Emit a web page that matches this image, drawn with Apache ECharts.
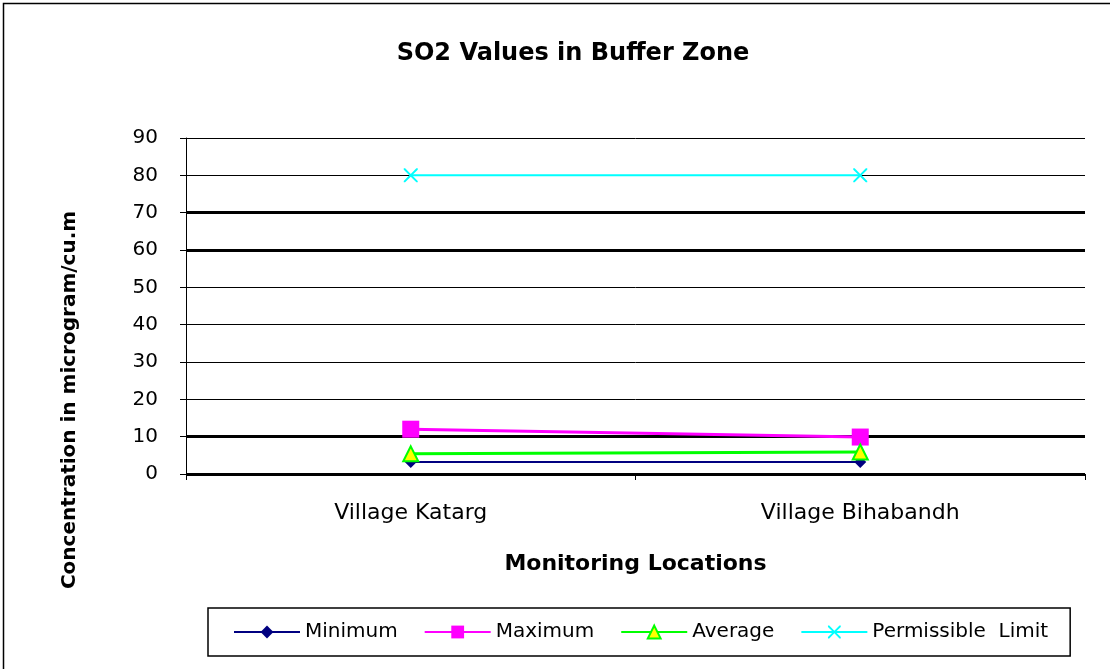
<!DOCTYPE html>
<html>
<head>
<meta charset="utf-8">
<script src="https://cdn.jsdelivr.net/npm/echarts@6/dist/echarts.min.js"></script>
<style>
  html, body { margin: 0; padding: 0; background: #fff; }
  #chart { width: 1110px; height: 669px; }
</style>
</head>
<body>
<div id="chart"></div>
<script>
const locations = ['Village Katarg', 'Village Bihabandh'];
const minimum = [3.2, 3.2];
const maximum = [12.0, 9.9];
const average = [5.4, 5.9];
const permissible = [80, 80];
const thickGrid = [0, 10, 60, 70];

const font = 'DejaVu Sans, Verdana, sans-serif';
const crossPath = 'path://M0,0L1,0L5,4L9,0L10,0L10,1L6,5L10,9L10,10L9,10L5,6L1,10L0,10L0,9L4,5L0,1Z';

const chart = echarts.init(document.getElementById('chart'));
chart.setOption({
  animation: false,
  textStyle: { fontFamily: font, color: '#000' },
  title: {
    text: 'SO2 Values in Buffer Zone',
    left: 568,
    top: 37,
    textAlign: 'center',
    textStyle: { fontSize: 24, fontWeight: 'bold', color: '#000', fontFamily: font },
  },
  graphic: [
    {
      type: 'rect',
      shape: { x: 3.5, y: 3.5, width: 1120, height: 680 },
      style: { fill: 'none', stroke: '#000', lineWidth: 1.5 },
      silent: true,
    },
    {
      type: 'text',
      x: 70,
      y: 400,
      rotation: Math.PI / 2,
      style: {
        text: 'Concentration in microgram/cu.m',
        font: 'bold 20px ' + font,
        fill: '#000',
        align: 'center',
        verticalAlign: 'middle',
      },
    },
  ],
  legend: {
    left: 208,
    top: 608,
    padding: [14, 22, 14, 25],
    borderColor: '#000',
    borderWidth: 1.5,
    itemWidth: 66,
    itemHeight: 16,
    itemGap: 26,
    textStyle: { fontSize: 20, fontFamily: font, color: '#000' },
    data: ['Minimum', 'Maximum', 'Average', 'Permissible  Limit'],
  },
  grid: { left: 186, right: 25, top: 138, bottom: 195, containLabel: false },
  xAxis: {
    type: 'category',
    data: locations,
    boundaryGap: true,
    name: 'Monitoring Locations',
    nameLocation: 'middle',
    nameGap: 79,
    nameTextStyle: { fontSize: 22, fontWeight: 'bold', color: '#000', fontFamily: font },
    axisLine: { lineStyle: { color: '#000', width: 1 } },
    axisTick: { show: true, length: 6, inside: false, lineStyle: { color: '#000' } },
    axisLabel: { fontSize: 22, color: '#000', margin: 28, fontFamily: font },
  },
  yAxis: {
    type: 'value',
    min: 0,
    max: 90,
    interval: 10,
    axisLine: { show: true, lineStyle: { color: '#000', width: 1 } },
    axisTick: { show: true, length: 6, lineStyle: { color: '#000' } },
    axisLabel: { fontSize: 20, color: '#000', margin: 28, fontFamily: font },
    splitLine: { show: true, lineStyle: { color: '#000', width: 1 } },
  },
  series: [
    {
      name: 'Minimum',
      type: 'line',
      data: minimum,
      symbol: 'diamond',
      symbolSize: 12,
      lineStyle: { color: '#000080', width: 2 },
      itemStyle: { color: '#000080' },
      z: 5,
      markLine: {
        silent: true,
        symbol: 'none',
        label: { show: false },
        lineStyle: { color: '#000', width: 3, type: 'solid' },
        data: thickGrid.map(v => ({ yAxis: v })),
        z: 1,
      },
    },
    {
      name: 'Maximum',
      type: 'line',
      data: maximum,
      symbol: 'rect',
      symbolSize: 17,
      lineStyle: { color: '#FF00FF', width: 3 },
      itemStyle: { color: '#FF00FF' },
      z: 6,
    },
    {
      name: 'Average',
      type: 'line',
      data: average,
      symbol: 'triangle',
      symbolSize: 15,
      lineStyle: { color: '#00FF00', width: 3 },
      itemStyle: { color: '#FFFF00', borderColor: '#00FF00', borderWidth: 2 },
      z: 7,
    },
    {
      name: 'Permissible  Limit',
      type: 'line',
      data: permissible,
      symbol: crossPath,
      symbolSize: 14,
      lineStyle: { color: '#00FFFF', width: 2 },
      itemStyle: { color: '#00FFFF' },
      z: 8,
    },
  ],
});
</script>
</body>
</html>
